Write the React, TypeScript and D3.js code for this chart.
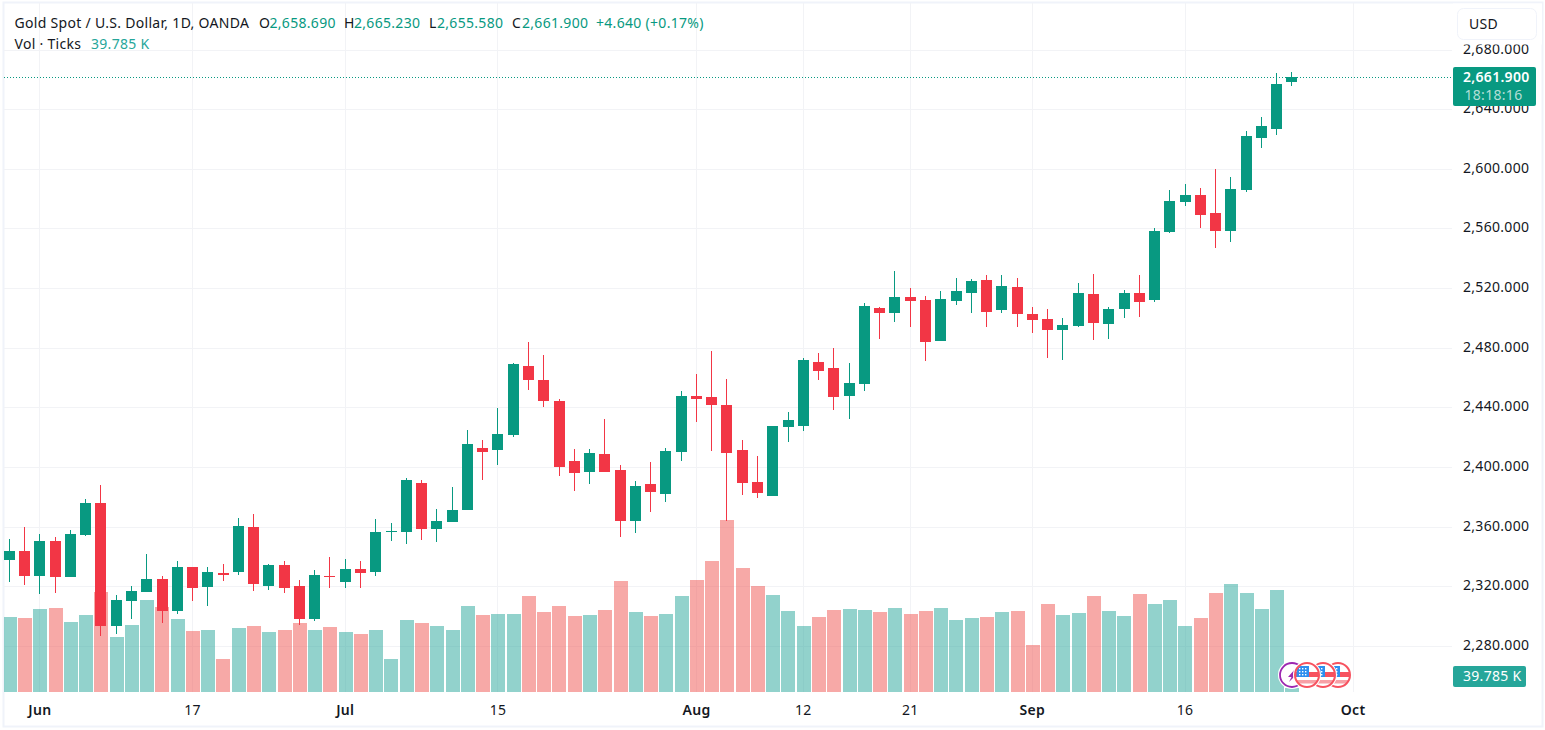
import React from "react";
import * as d3 from "d3";

const opens = [2337.7,2343.7,2327.0,2350.5,2326.3,2354.5,2376.0,2293.4,2310.2,2316.3,2325.0,2303.5,2333.0,2319.6,2329.0,2329.7,2359.9,2320.3,2334.4,2320.3,2298.1,2327.0,2323.0,2331.7,2329.7,2356.5,2356.5,2389.4,2358.5,2363.2,2371.3,2412.9,2411.6,2421.6,2467.9,2458.5,2444.4,2404.2,2396.8,2408.9,2398.1,2363.9,2388.7,2382.0,2410.2,2447.8,2447.1,2441.7,2411.6,2390.1,2380.7,2427.0,2427.7,2470.5,2466.5,2447.8,2455.9,2506.9,2503.5,2514.2,2512.2,2484.7,2511.5,2517.0,2525.6,2505.5,2521.0,2502.8,2499.5,2492.1,2494.8,2516.3,2496.1,2506.2,2517.0,2512.2,2557.9,2578.0,2582.7,2570.6,2558.5,2586.0,2620.9,2627.0,2658.69];
const closes = [2343.7,2327.0,2350.5,2326.3,2355.2,2376.0,2293.4,2310.9,2316.9,2325.0,2303.5,2333.0,2318.9,2329.7,2327.7,2360.6,2321.6,2334.4,2318.9,2298.1,2327.7,2326.3,2331.7,2329.0,2356.5,2357.2,2391.4,2358.5,2363.9,2371.3,2415.6,2410.2,2422.3,2469.3,2458.5,2444.4,2400.1,2396.1,2409.5,2396.8,2363.9,2387.4,2383.4,2410.9,2447.8,2445.8,2441.7,2409.5,2389.4,2382.7,2427.7,2431.7,2471.9,2464.5,2447.1,2456.5,2508.2,2503.5,2514.2,2511.5,2484.0,2512.9,2518.3,2525.0,2504.2,2521.6,2502.8,2498.8,2492.1,2495.5,2517.0,2496.8,2506.2,2517.0,2510.9,2558.5,2578.7,2582.7,2569.3,2558.5,2586.7,2622.3,2629.0,2657.2,2661.9];
const highs = [2351.8,2359.7,2355.2,2353.2,2357.9,2378.7,2388.1,2314.2,2320.3,2341.8,2327.0,2337.1,2333.0,2333.0,2335.0,2365.9,2368.6,2335.0,2337.1,2324.3,2331.0,2339.8,2338.4,2337.1,2365.3,2362.6,2392.8,2391.4,2372.0,2386.7,2425.0,2418.3,2439.7,2469.9,2484.0,2475.3,2445.8,2412.2,2412.2,2432.3,2401.5,2390.7,2403.5,2412.9,2451.1,2462.5,2478.0,2459.1,2418.3,2407.5,2427.7,2437.1,2473.2,2476.6,2479.9,2469.9,2510.2,2507.5,2531.7,2520.3,2514.9,2518.3,2527.0,2526.3,2529.0,2529.0,2527.0,2507.5,2506.2,2500.2,2523.6,2529.7,2507.5,2519.0,2529.0,2560.5,2586.0,2590.1,2587.4,2600.1,2594.8,2625.6,2635.0,2664.6,2665.23];
const lows = [2323.2,2321.0,2314.9,2315.6,2326.3,2353.9,2286.7,2288.1,2298.1,2316.3,2295.5,2301.5,2310.2,2306.9,2323.6,2327.7,2316.9,2317.6,2315.6,2294.1,2296.8,2318.9,2318.9,2318.9,2327.0,2350.5,2348.5,2351.2,2349.8,2363.2,2371.3,2391.4,2401.5,2420.3,2451.8,2440.4,2394.1,2384.0,2388.7,2396.8,2353.2,2355.9,2370.0,2376.7,2404.2,2430.3,2410.9,2363.9,2381.4,2379.3,2380.7,2416.9,2424.3,2458.5,2438.4,2432.3,2451.1,2486.0,2497.4,2494.1,2471.3,2484.7,2508.8,2503.5,2494.1,2503.5,2494.1,2490.1,2473.3,2472.0,2494.1,2485.4,2486.1,2500.2,2500.8,2510.9,2557.2,2575.3,2560.5,2547.1,2551.2,2584.7,2614.2,2623.0,2655.58];
const volumes = [750,740,830,840,700,770,1000,550,670,920,850,730,610,620,330,640,660,600,620,690,620,650,600,580,620,330,720,690,660,620,860,770,780,780,960,800,860,760,770,820,1110,800,760,780,960,1120,1310,1720,1240,1060,970,810,660,750,820,830,820,800,840,780,810,840,720,740,750,800,810,470,880,770,790,960,810,760,980,880,920,660,740,990,1080,990,830,1020,39.785];
const priceTicks = [2680,2640,2600,2560,2520,2480,2440,2400,2360,2320,2280];
const timeTickLabels = ["Jun","17","Jul","15","Aug","12","21","Sep","16","Oct"];
const timeTickIndex = [2,12,22,32,45,52,59,67,77,88];
const monthLabels = ["Jun","Jul","Aug","Sep","Oct"];
const lastPrice = 2661.9;
const lastVolumeLabel = "39.785 K";
const countdown = "18:18:16";
const titleText = "Gold Spot / U.S. Dollar, 1D, OANDA";
const ohlcLabels = [["O","2,658.690",259,269.5],["H","2,665.230",344,354],["L","2,655.580",429,437],["C","2,661.900",512,522]] as const;
const changeText = "+4.640 (+0.17%)";
const flagCenters = [1338,1323,1307];
const flagDotCols = [-8,-5,-2];
const flagDotRows = [-7,-4,-1];

const GREEN = "#089981", RED = "#F23645", GRID = "#F2F3F6", FRAME = "#F0F3FA", TEXT = "#131722";
const FONT = "'Noto Sans', sans-serif";
const SPACING = 0.3;

const x = d3.scaleLinear().domain([0, 88]).range([9.3, 9.3 + 88 * 15.27]);
const y = d3.scaleLinear().domain([2280, 2680]).range([646.3, 50]);
const yVol = d3.scaleLinear().domain([0, 1720]).range([692, 520]);
const fmt = d3.format(",.3f");

function Flag({ cx }: { cx: number }) {
  const cy = 675;
  const id = `flag${cx}`;
  return (
    <g>
      <clipPath id={id}><circle cx={cx} cy={cy} r={11.5} /></clipPath>
      <circle cx={cx} cy={cy} r={14} fill="#fff" />
      <g clipPath={`url(#${id})`}>
        <rect x={cx - 12} y={cy - 3} width={24} height={5} fill="#F7525F" />
        <rect x={cx - 12} y={cy + 5} width={24} height={3.5} fill="#F7A0A6" />
        <rect x={cx - 10.5} y={cy - 9} width={12.5} height={11} fill="#2E8FEF" />
        {flagDotCols.map(dx => flagDotRows.map(dy => (
          <rect key={`${dx}${dy}`} x={cx + dx} y={cy + dy} width={1.4} height={1.4} fill="#fff" />
        )))}
      </g>
      <circle cx={cx} cy={cy} r={12} fill="none" stroke="#F7525F" strokeWidth={2} />
    </g>
  );
}

export default function App() {
  return (
    <svg width={1545} height={730} style={{ position: "absolute", left: 0, top: 0, fontFamily: FONT, background: "#fff" }}>
      <defs>
        <clipPath id="pane"><rect x={4} y={3} width={1448} height={689} /></clipPath>
      </defs>
      <rect x={3.5} y={2.5} width={1539} height={724} fill="#fff" stroke={FRAME} strokeWidth={2} />
      <g stroke={GRID} strokeWidth={1}>
        {priceTicks.map(t => <line key={t} x1={4} x2={1452} y1={Math.floor(y(t)) + 0.5} y2={Math.floor(y(t)) + 0.5} />)}
        {timeTickIndex.map(i => <line key={i} x1={Math.floor(x(i)) + 0.5} x2={Math.floor(x(i)) + 0.5} y1={3} y2={692} />)}
      </g>
      <g clipPath="url(#pane)">
        {volumes.map((v, i) => (
          <rect key={i} x={Math.round(x(i) - 6.6)} width={14} y={yVol(v)} height={692 - yVol(v)}
            fill={closes[i] >= opens[i] ? "#26A69A" : "#EF5350"} fillOpacity={0.5} />
        ))}
        <line x1={4} x2={1452} y1={Math.round(y(lastPrice)) + 0.5} y2={Math.round(y(lastPrice)) + 0.5}
          stroke={GREEN} strokeWidth={1} strokeDasharray="1 2" />
        {opens.map((o, i) => {
          const c = closes[i];
          const col = c >= o ? GREEN : RED;
          const cx = Math.floor(x(i)) + 0.5;
          const top = Math.round(y(Math.max(o, c)));
          const bot = Math.round(y(Math.min(o, c)));
          return (
            <g key={i}>
              <line x1={cx} x2={cx} y1={Math.round(y(highs[i]))} y2={Math.round(y(lows[i]))} stroke={col} strokeWidth={1} />
              <rect x={cx - 5.5} width={11} y={top} height={Math.max(bot - top, 1)} fill={col} />
            </g>
          );
        })}
      </g>
      {/* economic event markers */}
      <g>
        <circle cx={1292} cy={675} r={14} fill="#fff" />
        <circle cx={1292} cy={675} r={12} fill="#fff" stroke="#9C27B0" strokeWidth={1.8} />
        <path d="M1296 668 L1288 677 L1291.5 677 L1289 682 L1297 674 L1293 674 Z" fill="#9C27B0" />
        {flagCenters.map(c => <Flag key={c} cx={c} />)}
      </g>
      {/* price axis */}
      <g fontSize={14} fill={TEXT} textAnchor="start" letterSpacing={SPACING}>
        {priceTicks.map(t => <text key={t} x={1463} y={y(t) + 3.5}>{fmt(t)}</text>)}
      </g>
      <rect x={1453} y={3.5} width={89} height={41} fill="#fff" />
      <rect x={1457.5} y={8.5} width={79} height={31} rx={6} fill="#fff" stroke={FRAME} strokeWidth={1} />
      <text x={1469} y={29} fontSize={14} fill={TEXT} letterSpacing={SPACING}>USD</text>
      <rect x={1453} y={67} width={83} height={39} rx={2} fill={GREEN} />
      <text x={1463} y={82} fontSize={14} fontWeight={600} fill="#fff" letterSpacing={SPACING}>{fmt(lastPrice)}</text>
      <text x={1464.5} y={100} fontSize={14} fill="#fff" fillOpacity={0.7} letterSpacing={SPACING}>{countdown}</text>
      <rect x={1453} y={666} width={73} height={21} rx={2} fill="#26A69A" />
      <text x={1463} y={681} fontSize={14} fill="#fff" letterSpacing={SPACING}>{lastVolumeLabel}</text>
      {/* time axis */}
      <g fontSize={14} textAnchor="middle" fill={TEXT}>
        {timeTickLabels.map((l, i) => (
          <text key={l} x={x(timeTickIndex[i])} y={715} fontWeight={monthLabels.includes(l) ? 600 : 400}
            letterSpacing={SPACING}>{l}</text>
        ))}
      </g>
      {/* legend */}
      <g fontSize={14} letterSpacing={SPACING}>
        <text x={14.5} y={27.5} fill={TEXT}>{titleText}</text>
        {ohlcLabels.map(([k, v, a, b]) => (
          <g key={k}>
            <text x={a} y={27.5} fill={TEXT}>{k}</text>
            <text x={b} y={27.5} fill={GREEN}>{v}</text>
          </g>
        ))}
        <text x={596} y={27.5} fill={GREEN}>{changeText}</text>
        <text x={14.5} y={48.5} fill={TEXT}>Vol · Ticks</text>
        <text x={91} y={48.5} fill="#26A69A">{lastVolumeLabel}</text>
      </g>
    </svg>
  );
}
